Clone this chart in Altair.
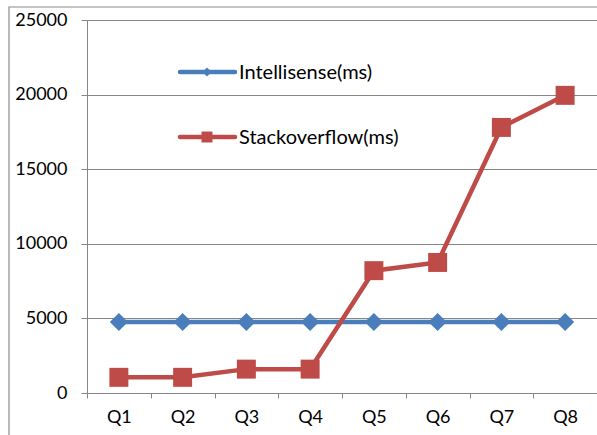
import altair as alt
import pandas as pd

quarters = ["Q1", "Q2", "Q3", "Q4", "Q5", "Q6", "Q7", "Q8"]
series_names = ["Intellisense(ms)", "Stackoverflow(ms)"]
intellisense = [4760, 4760, 4760, 4760, 4760, 4760, 4760, 4760]
stackoverflow = [1050, 1050, 1600, 1600, 8200, 8750, 17800, 19950]
y_ticks = [0, 5000, 10000, 15000, 20000, 25000]

colors = ["#4A7EBB", "#BE4B48"]
shapes = ["diamond", "square"]

rows = []
for q, a, b in zip(quarters, intellisense, stackoverflow):
    rows.append({"q": q, "series": series_names[0], "v": a})
    rows.append({"q": q, "series": series_names[1], "v": b})
df = pd.DataFrame(rows)

W, H = 510, 373
FONT = "Lato"

x_enc = alt.X(
    "q:N",
    sort=quarters,
    bandPosition=0.5,
    scale=alt.Scale(type="band", paddingInner=0, paddingOuter=0),
    axis=alt.Axis(
        title=None, tickBand="extent", tickSize=5, labelPadding=10,
        labelFontSize=18, labelFont=FONT, labelColor="#000000",
        domainColor="#868686", tickColor="#868686", grid=False,
        labelAngle=0,
    ),
)
y_enc = alt.Y(
    "v:Q",
    scale=alt.Scale(domain=[0, 25000], nice=False),
    axis=alt.Axis(
        title=None, values=y_ticks, format="d", tickSize=6, labelPadding=14,
        labelFontSize=18, labelFont=FONT, labelColor="#000000",
        domainColor="#868686", tickColor="#868686",
        gridColor="#868686", gridWidth=1.2,
    ),
)
color_enc = alt.Color("series:N", scale=alt.Scale(domain=series_names, range=colors), legend=None)

lines = alt.Chart(df).mark_line(strokeWidth=4.5).encode(
    x=x_enc, y=y_enc, color=color_enc, detail="series:N"
)
points = alt.Chart(df).mark_point(filled=True, opacity=1).encode(
    x=x_enc, y=y_enc, color=color_enc,
    shape=alt.Shape("series:N", scale=alt.Scale(domain=series_names, range=shapes), legend=None),
    size=alt.Size("series:N", scale=alt.Scale(domain=series_names, range=[330, 360]), legend=None),
)

one = pd.DataFrame({"k": [0]})
frame = alt.Chart(one).mark_rect(fill=None, stroke="#8C8C8C", strokeWidth=1.2).encode(
    x=alt.value(-78), x2=alt.value(W + 30), y=alt.value(-13), y2=alt.value(H + 80)
)

legend_layers = []
legend_y = [52, 117]
legend_sizes = [80, 120]
for i, name in enumerate(series_names):
    ly = legend_y[i]
    ldf = pd.DataFrame({"name": [name]})
    legend_layers.append(
        alt.Chart(ldf).mark_rule(color=colors[i], strokeWidth=4.5, strokeCap="round").encode(
            x=alt.value(93), x2=alt.value(148), y=alt.value(ly)
        )
    )
    legend_layers.append(
        alt.Chart(ldf).mark_point(filled=True, opacity=1, shape=shapes[i], color=colors[i],
                                  size=legend_sizes[i]).encode(
            x=alt.value(120), y=alt.value(ly)
        )
    )
    legend_layers.append(
        alt.Chart(ldf).mark_text(align="left", baseline="middle", font=FONT, fontSize=20,
                                 color="#000000").encode(
            x=alt.value(152), y=alt.value(ly + 1), text="name:N"
        )
    )

chart = alt.layer(frame, lines, points, *legend_layers).properties(
    width=W, height=H,
    autosize=alt.AutoSizeParams(type="none"),
    padding={"left": 87, "top": 20, "right": 0, "bottom": 42},
    background="#FFFFFF",
).configure_view(stroke=None)

chart.save("out.html", embed_options={"renderer": "svg", "actions": False})
